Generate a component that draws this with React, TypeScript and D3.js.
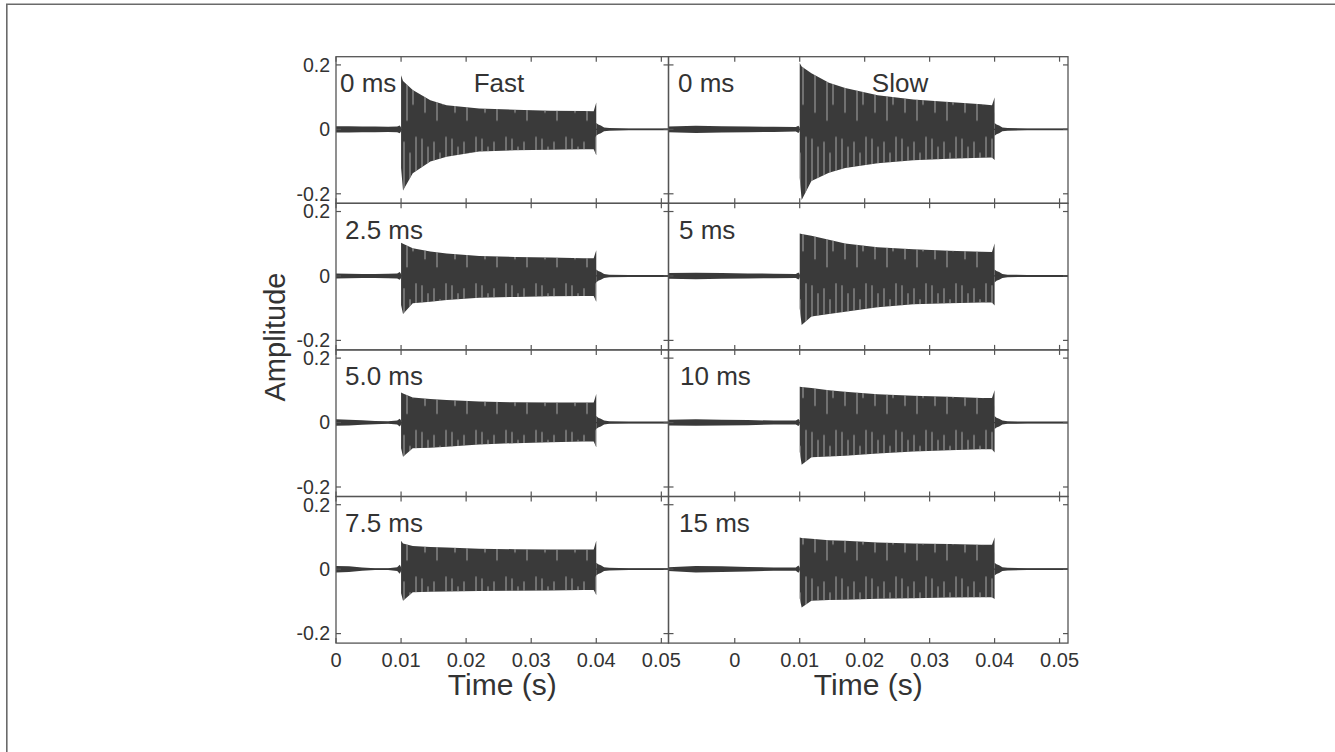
import React, { useEffect, useRef } from 'react';
import * as d3 from 'd3';

// sample times of the burst envelope (s)
const BURST_T = [0.0100, 0.0103, 0.0118, 0.0145, 0.0170, 0.0220, 0.0275, 0.0330, 0.0380, 0.0396, 0.0400];

// Fast column envelopes
const FAST_0_UP = [0.168, 0.150, 0.122, 0.090, 0.075, 0.065, 0.061, 0.058, 0.057, 0.056, 0.083];
const FAST_0_LO = [-0.120, -0.190, -0.136, -0.100, -0.085, -0.069, -0.065, -0.063, -0.062, -0.062, -0.080];
const FAST_25_UP = [0.103, 0.100, 0.086, 0.076, 0.070, 0.062, 0.059, 0.057, 0.055, 0.055, 0.080];
const FAST_25_LO = [-0.090, -0.118, -0.085, -0.080, -0.075, -0.068, -0.065, -0.063, -0.062, -0.062, -0.080];
const FAST_50_UP = [0.093, 0.090, 0.078, 0.073, 0.070, 0.065, 0.063, 0.062, 0.062, 0.062, 0.089];
const FAST_50_LO = [-0.080, -0.106, -0.080, -0.078, -0.075, -0.068, -0.064, -0.061, -0.059, -0.059, -0.077];
const FAST_75_UP = [0.088, 0.080, 0.072, 0.069, 0.067, 0.063, 0.062, 0.061, 0.061, 0.061, 0.088];
const FAST_75_LO = [-0.075, -0.098, -0.072, -0.070, -0.069, -0.068, -0.067, -0.066, -0.065, -0.065, -0.080];

// Slow column envelopes
const SLOW_0_UP = [0.206, 0.195, 0.174, 0.145, 0.128, 0.106, 0.093, 0.085, 0.078, 0.075, 0.099];
const SLOW_0_LO = [-0.150, -0.219, -0.160, -0.135, -0.120, -0.105, -0.096, -0.091, -0.088, -0.087, -0.095];
const SLOW_5_UP = [0.132, 0.130, 0.125, 0.112, 0.101, 0.089, 0.083, 0.078, 0.075, 0.074, 0.101];
const SLOW_5_LO = [-0.100, -0.152, -0.126, -0.118, -0.111, -0.097, -0.088, -0.085, -0.082, -0.082, -0.092];
const SLOW_10_UP = [0.111, 0.110, 0.107, 0.100, 0.096, 0.088, 0.083, 0.080, 0.076, 0.076, 0.100];
const SLOW_10_LO = [-0.090, -0.131, -0.108, -0.105, -0.103, -0.096, -0.090, -0.086, -0.083, -0.083, -0.093];
const SLOW_15_UP = [0.098, 0.097, 0.094, 0.090, 0.088, 0.083, 0.080, 0.078, 0.076, 0.076, 0.098];
const SLOW_15_LO = [-0.090, -0.119, -0.098, -0.096, -0.095, -0.092, -0.090, -0.088, -0.087, -0.087, -0.093];

// background noise before the burst (half width)
const PRE_T_FAST = [0, 0.002, 0.004, 0.006, 0.008, 0.0094, 0.0098, 0.0100];
const PRE_T_SLOW = [-0.0102, -0.006, -0.002, 0.002, 0.006, 0.0094, 0.0098, 0.0100];
const PRE_FAST_0 = [0.010, 0.010, 0.009, 0.009, 0.008, 0.009, 0.012, 0.006];
const PRE_FAST_25 = [0.008, 0.007, 0.006, 0.006, 0.007, 0.008, 0.012, 0.006];
const PRE_FAST_50 = [0.010, 0.009, 0.007, 0.005, 0.004, 0.006, 0.012, 0.006];
const PRE_FAST_75 = [0.010, 0.009, 0.005, 0.003, 0.003, 0.006, 0.014, 0.006];
const PRE_SLOW_0 = [0.009, 0.011, 0.010, 0.009, 0.008, 0.007, 0.011, 0.006];
const PRE_SLOW_5 = [0.009, 0.010, 0.009, 0.008, 0.007, 0.006, 0.011, 0.006];
const PRE_SLOW_10 = [0.009, 0.010, 0.009, 0.008, 0.006, 0.006, 0.011, 0.006];
const PRE_SLOW_15 = [0.006, 0.010, 0.009, 0.007, 0.005, 0.005, 0.011, 0.006];

// ringing after the burst
const POST_T = [0.0400, 0.0403, 0.0407, 0.0412, 0.0420, 0.0450, 0.0515];
const POST_AMP = [0.020, 0.015, 0.012, 0.006, 0.004, 0.003, 0.003];

const FAST_LABELS = ['0 ms', '2.5 ms', '5.0 ms', '7.5 ms'];
const SLOW_LABELS = ['0 ms', '5 ms', '10 ms', '15 ms'];
const X_TICKS = [0, 0.01, 0.02, 0.03, 0.04, 0.05];
const X_TICK_LABELS = ['0', '0.01', '0.02', '0.03', '0.04', '0.05'];
const Y_TICKS = [-0.2, 0, 0.2];
const Y_TICK_LABELS = ['-0.2', '0', '0.2'];

const W = 1335;
const H = 752;
const ROW_TOP = 56.7;
const ROW_H = 146.6;

const App = () => {
  const svgRef = useRef<SVGSVGElement>(null);

  useEffect(() => {
    const svg = d3.select(svgRef.current);
    svg.selectAll('*').remove();

    const font = 'Arial, "Liberation Sans", sans-serif';
    const ink = '#333';
    const axisColor = '#555';
    const waveColor = '#3a3a3a';

    // outer frame (only top/left edges visible)
    svg.append('path')
      .attr('d', `M6.8,${H} V4.3 H${W}`)
      .attr('fill', 'none')
      .attr('stroke', '#6a6a6a')
      .attr('stroke-width', 1.6);

    // light streak texture inside the dense oscillation
    const defs = svg.append('defs');
    const pat = defs.append('pattern')
      .attr('id', 'streaks')
      .attr('patternUnits', 'userSpaceOnUse')
      .attr('x', 0)
      .attr('y', ROW_TOP)
      .attr('width', 30)
      .attr('height', ROW_H);
    [[2, 82], [8, 90], [14, 85], [20, 96], [26, 80]].forEach(([px, y1]) => {
      pat.append('line').attr('x1', px).attr('x2', px).attr('y1', y1).attr('y2', ROW_H)
        .attr('stroke', '#a8a8a8').attr('stroke-width', 1);
    });
    [[5, 56], [17, 64], [23, 48]].forEach(([px, y2]) => {
      pat.append('line').attr('x1', px).attr('x2', px).attr('y1', 0).attr('y2', y2)
        .attr('stroke', '#a8a8a8').attr('stroke-width', 1);
    });

    const cols = [
      {
        x0: 336, x1: 668.5, domain: [0, 0.0511], title: 'Fast', titleX: 499,
        labels: FAST_LABELS, labelX: [340, 345, 345, 345],
        up: [FAST_0_UP, FAST_25_UP, FAST_50_UP, FAST_75_UP],
        lo: [FAST_0_LO, FAST_25_LO, FAST_50_LO, FAST_75_LO],
        preT: PRE_T_FAST, pre: [PRE_FAST_0, PRE_FAST_25, PRE_FAST_50, PRE_FAST_75],
      },
      {
        x0: 668.5, x1: 1068, domain: [-0.0102, 0.0513], title: 'Slow', titleX: 900,
        labels: SLOW_LABELS, labelX: [678, 679, 680, 679],
        up: [SLOW_0_UP, SLOW_5_UP, SLOW_10_UP, SLOW_15_UP],
        lo: [SLOW_0_LO, SLOW_5_LO, SLOW_10_LO, SLOW_15_LO],
        preT: PRE_T_SLOW, pre: [PRE_SLOW_0, PRE_SLOW_5, PRE_SLOW_10, PRE_SLOW_15],
      },
    ];

    cols.forEach((col, ci) => {
      const x = d3.scaleLinear().domain(col.domain).range([col.x0, col.x1]);

      for (let r = 0; r < 4; r++) {
        const top = ROW_TOP + r * ROW_H;
        const bottom = top + ROW_H;
        const y = d3.scaleLinear().domain([-0.2295, 0.2255]).range([bottom, top]);
        const g = svg.append('g');

        const clipId = `clip-${ci}-${r}`;
        defs.append('clipPath').attr('id', clipId)
          .append('rect').attr('x', col.x0).attr('y', top).attr('width', col.x1 - col.x0).attr('height', ROW_H);
        const wave = g.append('g').attr('clip-path', `url(#${clipId})`);

        // noise before burst
        const preArea = d3.area<number>()
          .x((_, i) => x(col.preT[i]))
          .y0((d) => y(-d))
          .y1((d) => y(d))
          .curve(d3.curveLinear);
        wave.append('path').datum(col.pre[r]).attr('d', preArea).attr('fill', waveColor);

        // ringing after burst
        const postArea = d3.area<number>()
          .x((_, i) => x(POST_T[i]))
          .y0((d) => y(-d))
          .y1((d) => y(d))
          .curve(d3.curveLinear);
        wave.append('path').datum(POST_AMP).attr('d', postArea).attr('fill', waveColor);

        // baseline trace
        wave.append('line')
          .attr('x1', col.x0).attr('x2', col.x1)
          .attr('y1', y(0)).attr('y2', y(0))
          .attr('stroke', waveColor).attr('stroke-width', 1.2);

        // burst envelope
        const up = col.up[r];
        const lo = col.lo[r];
        const burst = d3.area<number>()
          .x((d) => x(d))
          .y0((_, i) => y(lo[i]))
          .y1((_, i) => y(up[i]))
          .curve(d3.curveLinear);
        wave.append('path').datum(BURST_T).attr('d', burst).attr('fill', waveColor);
        wave.append('path').datum(BURST_T).attr('d', burst).attr('fill', 'url(#streaks)');

        // panel box
        g.append('rect')
          .attr('x', col.x0).attr('y', top)
          .attr('width', col.x1 - col.x0).attr('height', ROW_H)
          .attr('fill', 'none').attr('stroke', axisColor).attr('stroke-width', 1.3);

        // ticks (inward)
        X_TICKS.forEach((t) => {
          const tx = x(t);
          g.append('line').attr('x1', tx).attr('x2', tx).attr('y1', top).attr('y2', top + 5)
            .attr('stroke', axisColor).attr('stroke-width', 1.2);
          g.append('line').attr('x1', tx).attr('x2', tx).attr('y1', bottom - 5).attr('y2', bottom)
            .attr('stroke', axisColor).attr('stroke-width', 1.2);
        });
        Y_TICKS.forEach((v, i) => {
          const ty = y(v);
          g.append('line').attr('x1', col.x0).attr('x2', col.x0 + 5).attr('y1', ty).attr('y2', ty)
            .attr('stroke', axisColor).attr('stroke-width', 1.2);
          g.append('line').attr('x1', col.x1 - 5).attr('x2', col.x1).attr('y1', ty).attr('y2', ty)
            .attr('stroke', axisColor).attr('stroke-width', 1.2);
          if (ci === 0) {
            g.append('text')
              .attr('x', 330).attr('y', ty).attr('dy', '0.35em')
              .attr('text-anchor', 'end')
              .attr('font-family', font).attr('font-size', 19.5).attr('fill', ink)
              .text(Y_TICK_LABELS[i]);
          }
        });

        // panel label
        g.append('text')
          .attr('x', col.labelX[r]).attr('y', top + 35.5)
          .attr('font-family', font).attr('font-size', 26).attr('fill', ink)
          .text(col.labels[r]);
        if (r === 0) {
          g.append('text')
            .attr('x', col.titleX).attr('y', top + 35.5)
            .attr('text-anchor', 'middle')
            .attr('font-family', font).attr('font-size', 26).attr('fill', ink)
            .text(col.title);
        }

        if (r === 3) {
          X_TICKS.forEach((t, i) => {
            g.append('text')
              .attr('x', x(t)).attr('y', bottom + 24)
              .attr('text-anchor', 'middle')
              .attr('font-family', font).attr('font-size', 20).attr('fill', ink)
              .text(X_TICK_LABELS[i]);
          });
          g.append('text')
            .attr('x', (col.x0 + col.x1) / 2).attr('y', 695)
            .attr('text-anchor', 'middle')
            .attr('font-family', font).attr('font-size', 30).attr('fill', ink)
            .text('Time (s)');
        }
      }
    });

    svg.append('text')
      .attr('transform', 'translate(285,337) rotate(-90)')
      .attr('text-anchor', 'middle')
      .attr('font-family', font).attr('font-size', 29).attr('fill', ink)
      .text('Amplitude');
  }, []);

  return (
    <svg
      ref={svgRef}
      width={W}
      height={H}
      style={{ position: 'absolute', left: 0, top: 0, background: '#fff' }}
    ></svg>
  );
};

export default App;
